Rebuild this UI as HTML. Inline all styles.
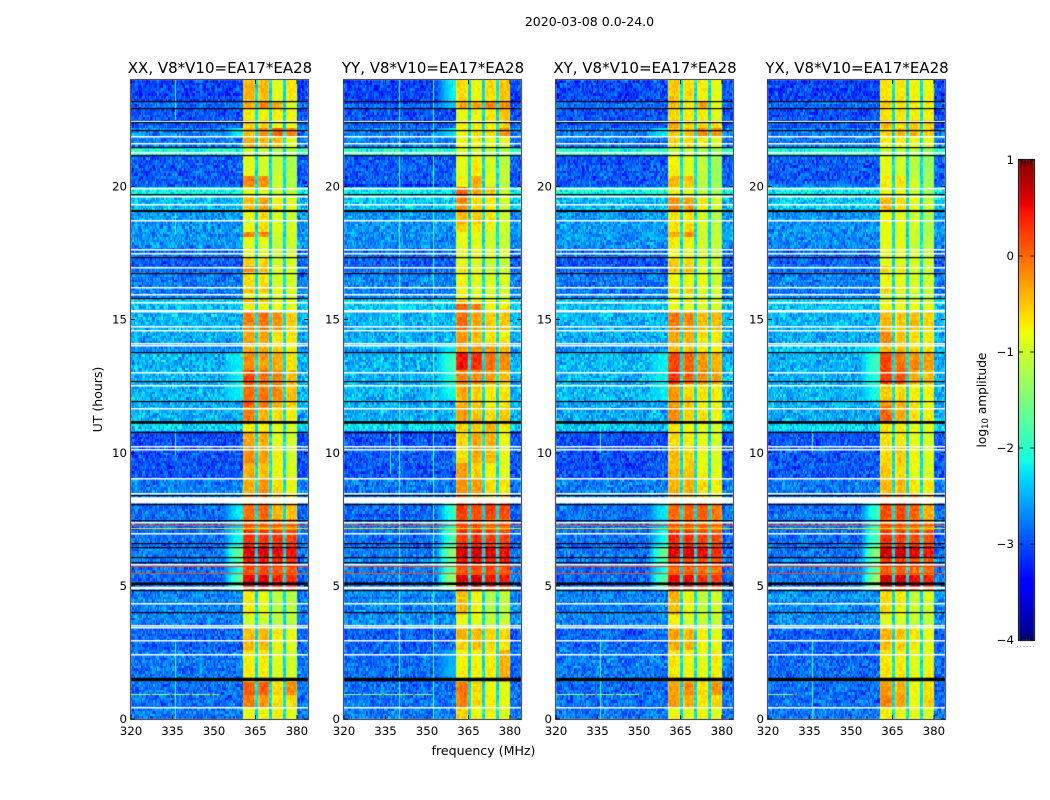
<!DOCTYPE html>
<html>
<head>
<meta charset="utf-8">
<title>2020-03-08 0.0-24.0</title>
<style>
html,body{margin:0;padding:0;background:#fff;}
#figure{position:relative;width:1050px;height:800px;overflow:hidden;background:#fff;}
canvas,svg{position:absolute;left:0;top:0;}
text{font-family:"DejaVu Sans","Liberation Sans",sans-serif;fill:#000;}
</style>
</head>
<body>
<div id="figure">
<canvas id="heat" width="1050" height="800"></canvas>
<svg id="overlay" width="1050" height="800"></svg>
</div>
<script>
const panelTitles = ["XX, V8*V10=EA17*EA28","YY, V8*V10=EA17*EA28","XY, V8*V10=EA17*EA28","YX, V8*V10=EA17*EA28"];
const xTicks = [320,335,350,365,380];
const yTicks = [0,5,10,15,20];
const colorbarTicks = [1,0,-1,-2,-3,-4];
const subbandRanges = [[360.5,365.2],[365.9,370],[370.8,375],[375.8,380]];
const segmentStartHours = [0,.41,.9,1.43,2.59,2.96,3.45,3.9,4.84,5.37,5.67,6.12,6.53,7.09,7.54,8.1,8.52,9.04,9.64,10.28,10.77,11.1,11.67,11.97,12.57,13.06,13.81,14.15,14.63,15.31,15.65,15.83,16.02,16.25,16.77,16.99,17.32,17.71,18.09,18.31,18.57,19.14,19.62,20,20.45,21.2,21.5,21.88,22.25,22.48,22.89,23.2];
const xxBackground = [-2.8,-2.85,-2.85,-2.8,-2.9,-2.9,-2.75,-2.75,-2.85,-2.85,-2.8,-2.8,-2.85,-2.8,-2.85,-2.75,-2.75,-3,-3,-3,-2.35,-2.55,-2.55,-2.5,-2.5,-2.5,-2.7,-2.55,-2.5,-2.45,-2.35,-2.75,-2.8,-2.8,-2.9,-2.95,-2.85,-2.65,-2.65,-2.65,-2.65,-2.45,-2.15,-2.95,-2.95,-2.05,-2.8,-2.75,-2.95,-3,-2.85,-3.05];
const yyBackground = [-2.8,-2.85,-2.85,-2.85,-2.9,-2.9,-2.7,-2.7,-2.8,-2.8,-2.75,-2.8,-2.85,-2.8,-2.85,-2.8,-2.8,-2.95,-2.95,-3,-2.3,-2.55,-2.5,-2.5,-2.5,-2.5,-2.5,-2.55,-2.5,-2.4,-2.35,-2.75,-2.8,-2.75,-2.85,-2.9,-2.85,-2.7,-2.65,-2.65,-2.65,-2.4,-2.2,-2.95,-2.95,-2.05,-2.8,-2.75,-2.95,-3,-2.9,-3.05];
const xxWing = [0,0,0,0,0,0,0,0,-1.7,-2.1,-1.7,-1.6,-2.1,-2.35,-2.2,0,0,0,0,0,0,0,0,-2.2,-2.2,-2.2,0,0,0,0,0,0,0,0,0,0,0,0,0,0,0,0,0,0,0,0,0,-2.2,0,0,0,0];
const yyWing = [0,0,0,-2.5,0,0,0,0,-1.3,-1.7,-1.6,-1.4,-1.8,-2.05,-1.95,0,0,0,0,0,0,0,0,-2.1,-2,-1.9,-2.2,0,0,0,0,0,0,0,0,0,0,0,0,0,0,0,0,0,0,0,0,-2.3,0,0,-2.4,-2.2];
const yxWing = [0,0,0,0,0,0,0,0,-1.3,-1.7,-1.6,-1.4,-1.8,-2.05,-1.95,0,0,0,0,0,0,0,0,-2.1,-2,-1.9,-2.2,0,0,0,0,0,0,0,0,0,0,0,0,0,0,0,0,0,0,0,0,0,0,0,0,0];
const xxBand = [[-.95,-.9,-.85,-1],[-.25,-.35,-.8,-.75],[-.1,-.05,-.75,-.35],[-.85,-.8,-1.05,-1.1],[-.55,-.55,-.9,-1],[-.6,-.55,-.85,-.95],[-1.1,-1.15,-1.25,-1.25],[-.85,-.95,-1.25,-1.25],[.4,.45,.25,.2],[0,.05,-.05,-.05],[.3,.3,.2,.15],[.4,.45,.35,.3],[.15,.15,.1,.05],[-.15,-.15,-.25,-.25],[-.2,-.1,-.55,-.6],[-.3,-.2,-.6,-.8],[-.5,-.35,-.75,-.9],[-.5,-.6,-.95,-1.05],[-.35,-.45,-.9,-1.1],[-.5,-.5,-1,-1.1],[-.85,-.85,-1,-1.1],[-.25,-.5,-.75,-.85],[-.1,-.2,-.5,-.7],[-.15,-.2,-.3,-.6],[.02,-.15,-.3,-.55],[-.35,-.4,-.5,-.8],[-.5,-.5,-.7,-.85],[-.45,-.45,-.8,-.8],[-.3,-.2,-.35,-.65],[-.9,-.9,-1,-1],[-.55,-.6,-.9,-.9],[-1,-1,-1.1,-1.1],[-.6,-.6,-1,-1],[-.8,-.75,-1.1,-1.1],[-.4,-.6,-1,-1.1],[-.7,-.7,-1.1,-1.1],[-1,-1,-1.15,-1.1],[-1,-.95,-1.2,-1.1],[-.3,-.3,-1.1,-1.1],[-.95,-.75,-1,-1.1],[-1,-.75,-1.1,-1.2],[-.6,-.4,-.85,-1],[-1,-1,-1.2,-1.2],[-.3,-.35,-1.1,-1.3],[-1,-1.1,-1.2,-1.3],[-1.2,-1.2,-1.3,-1.3],[-.5,-.55,-.6,-1],[-.6,-.3,-.1,-.3],[-.7,-.7,-1,-1],[-.85,-.85,-.85,-.95],[-.5,-.2,-.45,-1],[-.55,-.55,-1,-.8]];
const yyBand = [[-.7,-.9,-.95,-1],[-.25,-.75,-.9,-1],[-.25,-.7,-.9,-1],[-.9,-.9,-.85,-.5],[-.7,-.6,-.7,-.8],[-.5,-.55,-.7,-.7],[-1,-1,-1.2,-1.2],[-.6,-.9,-1.3,-1.2],[.45,.5,.3,.3],[-.05,.05,0,0],[.3,.3,.2,.2],[.45,.5,.4,.35],[.1,.2,.1,.05],[-.05,-.05,-.2,-.2],[.1,.05,.1,.05],[-.2,-.3,-.6,-.6],[-.35,-.4,-.75,-.8],[-.4,-.7,-.9,-1],[-.75,-.5,-.6,-1],[-.75,-.45,-.5,-.9],[-.7,-.6,-.55,-.8],[-.4,-.6,-.75,-.65],[-.55,-.6,-.85,-.8],[-.5,-.7,-.8,-.8],[-.25,-.3,-.4,-.55],[.3,.2,-.15,-.3],[-.35,-.3,-.35,-.5],[-.4,-.6,-.8,-.85],[-.15,-.45,-.65,-.6],[-.1,-.3,-.9,-.8],[-.6,-.8,-1,-1],[-1,-1.1,-1.1,-1.1],[-.9,-1,-1.1,-1.1],[-.95,-1,-1.1,-1.1],[-.8,-.9,-1.1,-1.1],[-1,-1,-1.1,-1.2],[-1,-.95,-1.1,-1.1],[-1,-1,-1.1,-1.15],[-.95,-.95,-1.1,-1.15],[-.7,-.8,-.95,-1.1],[-.55,-.65,-.8,-1.1],[-.3,-.7,-.85,-1.1],[-.1,-.5,-.6,-1.1],[-.9,-.45,-1,-1.2],[-1,-.85,-1.1,-1.2],[-1.1,-1.1,-1.2,-1.3],[-.9,-.85,-1,-1.05],[-.9,-.75,-.75,-.35],[-.9,-.9,-.9,-.7],[-1,-.95,-.8,-.65],[-.5,-.45,-.25,-.3],[-.75,-.9,-.75,-.6]];
const xyBand = [[-.9,-1,-.9,-1],[-.4,-.5,-.85,-.7],[-.45,-.3,-.75,-.35],[-.8,-.9,-1,-.85],[-.5,-.55,-.85,-1],[-.45,-.55,-.85,-1],[-.9,-1.1,-1.2,-1.2],[-.55,-.85,-1.2,-1.1],[.35,.4,.15,.1],[-.1,-.1,-.2,-.2],[.1,.1,0,0],[.4,.45,.35,.2],[.15,.15,.05,0],[-.15,-.1,-.2,-.3],[-.15,-.1,-.05,-.25],[-.4,-.4,-.7,-.8],[-.55,-.5,-.75,-.85],[-.55,-.6,-.9,-1],[-.6,-.7,-.95,-1.05],[-.75,-.85,-1,-1.1],[-.8,-.9,-1,-1.05],[-.3,-.65,-.8,-.85],[-.45,-.6,-.9,-.9],[-.4,-.7,-.8,-.85],[.15,-.1,-.3,-.45],[.05,-.1,-.4,-.55],[-.6,-.6,-.8,-.85],[-.45,-.5,-.8,-.8],[-.2,-.3,-.55,-.55],[-1,-1,-1.1,-1.1],[-.8,-.8,-.9,-1],[-1.1,-1.1,-1.2,-1.2],[-.7,-.7,-1,-1.1],[-.9,-.9,-1,-1.1],[-.6,-.6,-1,-1.1],[-.7,-.7,-1,-1.1],[-1,-.95,-1.15,-1.2],[-.85,-.85,-1.1,-1.2],[-.45,-.4,-1.1,-1.25],[-.8,-.7,-1.1,-1.25],[-.8,-.8,-1.1,-1.3],[-.35,-.4,-.85,-1.1],[-.9,-1,-1.25,-1.4],[-.55,-.6,-1.2,-1.4],[-.9,-1,-1.25,-1.4],[-1.2,-1.2,-1.3,-1.4],[-.7,-.7,-.9,-1],[-.6,-.6,-.3,-.3],[-.5,-.7,-.7,-.8],[-.75,-.8,-.9,-1],[-.55,-.8,-.45,-.95],[-.65,-.75,-.85,-1]];
const yxBand = [[-.85,-.95,-1,-1.05],[-.3,-.45,-.95,-.7],[-.4,-.5,-.95,-.75],[-.8,-.85,-1,-.95],[-.6,-.7,-.85,-.95],[-.5,-.6,-.8,-.95],[-1.05,-1.05,-1.2,-1.2],[-.75,-.85,-1.2,-1.1],[.5,.5,.4,.2],[-.1,-.1,-.2,-.2],[.1,.1,.05,-.1],[.5,.5,.4,.3],[.15,.1,.05,0],[-.1,-.1,-.2,-.35],[0,.05,-.1,-.5],[-.1,-.2,-.15,-.55],[-.55,-.55,-.8,-.85],[-.65,-.75,-1,-1.05],[-.75,-.65,-.9,-1.05],[-.8,-.8,-1,-1.1],[-.8,-.85,-1,-1.05],[-.1,-.5,-.75,-.85],[-.35,-.5,-.85,-.9],[-.65,-.75,-.85,-.9],[.1,0,-.45,-.55],[.05,-.15,-.3,-.4],[-.55,-.6,-.75,-.8],[-.3,-.6,-.75,-.85],[-.55,-.65,-.6,-.7],[-.9,-.95,-.95,-1],[-.9,-.9,-1,-1.1],[-1.2,-1.2,-1.2,-1.25],[-.75,-.85,-1.05,-1.15],[-.95,-.95,-1.1,-1.15],[-.7,-.8,-1.05,-1.15],[-1,-1,-1.1,-1.15],[-1,-1,-1.1,-1.2],[-1,-1,-1.15,-1.25],[-.95,-1,-1.1,-1.25],[-1,-1,-1.1,-1.3],[-.95,-.95,-1.1,-1.3],[-.55,-.75,-1,-1.2],[-.95,-.95,-1.2,-1.4],[-.9,-.8,-1.2,-1.4],[-1,-1.1,-1.25,-1.45],[-1.2,-1.3,-1.3,-1.4],[-.85,-.85,-.95,-1],[-.7,-.6,-.55,-.65],[-.6,-.75,-.7,-.7],[-.8,-.8,-.85,-.9],[-.7,-.85,-.8,-.9],[-.8,-.8,-.9,-.9]];
const whiteFlagHours = [.45,2.44,2.96,3.45,3.53,4.35,5.83,6.98,7.39,8.49,9.04,10.13,10.24,11.67,12.53,13.02,14.03,14.11,14.6,14.75,15.31,15.38,15.65,15.95,16.21,16.96,17.52,17.64,18.76,19.36,19.66,19.96,21.29,21.65,21.88,22.45];
const whiteFlagBlocks = [[4.87,4.97],[8.1,8.33]];
const blackFlagHours = [4.01,4.84,5.89,6.08,6.45,6.6,7.47,8.07,8.41,10.77,11.93,12.68,13.77,15.83,16.74,17.34,19.7,21.2,21.5,22.14,22.44,22.93,23.2];
const blackFlagBlocks = [[1.42,1.55],[5.03,5.13],[11.09,11.19],[19.04,19.12]];
const hotLineHours = [7.3,7.17,5.74,5.48];
const hotLineLevels = [.2,-.6,.25,.15];
const rfiLineHour = [.94,.94,.94,.94];
const rfiLineEndMHz = [352,352,350,330];
const rfiDotsMHz = [[326.9,334,341.5,348.6,355.8],[326,333.8,345],[330,334,341,350],[329]];
const verticalRfi = [[[336,0,2.9],[336,9.9,10.9],[336,18.2,19],[336,22.5,24]],[[340,0,24],[352,0,24],[336.7,9.2,11]],[[336,10,11],[336,0,3]],[[336,0,3],[336,10,11]]];
const fineGrainA = [.12,-.18,.05,.22,-.09,-.26,.16,.02,-.14,.27,-.05,.09,-.21,.18,-.02,-.12,.24,.07,-.28,.11,-.07,.19,-.16,.03,.26,-.23,.08,-.1,.15,-.19,.01,.21,-.04,-.25,.13,.06,-.15,.28,-.08,-.2,.17,.04,-.11,.23,-.27,.1,-.03,.2,-.17,.14,-.06,-.22,.25];
const fineGrainB = [-.06,.1,-.13,.04,.15,-.09,.07,-.16,.12,.02,-.11,.17,-.04,-.14,.08,.13,-.07,.05,-.17,.11,.01,-.1,.14,-.03,.09,-.15,.06,.16,-.12,-.02,.03];

const panelLeft = [131,344,556,768];
const panelWidth = 177, plotTop = 80, plotBottom = 719;
const xMin = 320, xMax = 384, yMin = 0, yMax = 24;
const barLeft = 1019, barRight = 1034, barTop = 160, barBottom = 640, barMax = 1, barMin = -4;
const ctx = document.getElementById('heat').getContext('2d');
const svg = document.getElementById('overlay');

function xPx(p, mhz){return panelLeft[p] + (mhz - xMin) / (xMax - xMin) * panelWidth;}
function yPx(h){return plotBottom - (h - yMin) / (yMax - yMin) * (plotBottom - plotTop);}
function barY(v){return barTop + (barMax - v) / (barMax - barMin) * (barBottom - barTop);}
function ramp(pts, t){
  for(let i = 1; i < pts.length; i++){
    if(t <= pts[i][0]){
      const a = pts[i-1], b = pts[i];
      return a[1] + (b[1] - a[1]) * (t - a[0]) / (b[0] - a[0]);
    }
  }
  return pts[pts.length-1][1];
}
const jetR = [[0,0],[.35,0],[.66,1],[.89,1],[1,.5]];
const jetG = [[0,0],[.125,0],[.375,1],[.64,1],[.91,0],[1,0]];
const jetB = [[0,.5],[.11,1],[.34,1],[.65,0],[1,0]];
function jet(v){
  const t = Math.max(0, Math.min(1, (v - barMin) / (barMax - barMin)));
  return 'rgb(' + Math.round(ramp(jetR,t)*255) + ',' + Math.round(ramp(jetG,t)*255) + ',' + Math.round(ramp(jetB,t)*255) + ')';
}
function segmentIndex(h){
  let s = 0;
  for(let i = 0; i < segmentStartHours.length; i++){ if(h >= segmentStartHours[i]) s = i; }
  return s;
}
const panelBand = [xxBand, yyBand, xyBand, yxBand];
const panelBackground = [xxBackground, yyBackground, xxBackground, yyBackground];
const panelWing = [xxWing, yyWing, xxWing, yxWing];
const rowCount = 240, colCount = 128;
const bandBrightening = .14;

function cellValue(p, row, col){
  const h = (row + .5) * (yMax - yMin) / rowCount;
  const f = xMin + (col + .5) * (xMax - xMin) / colCount;
  const s = segmentIndex(h);
  const grainIdxA = (row * row * 5 + col * col * 3 + row * col + p * 11) % fineGrainA.length;
  const grainIdxB = (col * 17 + row * row * 2 + col * row + p * 5) % fineGrainB.length;
  const grain = fineGrainA[grainIdxA] + fineGrainB[grainIdxB];
  const bg = panelBackground[p][s];
  if(f < subbandRanges[0][0] || f > subbandRanges[3][1]){
    let v = bg + grain * 1.1;
    const wing = panelWing[p][s];
    if(wing !== 0 && f < subbandRanges[0][0] && f > subbandRanges[0][0] - 7){
      const d = (subbandRanges[0][0] - f) / 7;
      v = Math.max(v, wing + (bg - wing) * d * d + grain * .3);
    }
    return v;
  }
  for(let b = 0; b < 4; b++){
    const r = subbandRanges[b];
    if(f >= r[0] && f <= r[1]){
      let v = panelBand[p][s][b] + bandBrightening + grain * .5;
      if(f - r[0] < .5 || r[1] - f < .5) v = v - .18;
      return v;
    }
  }
  return -2.3 + grain * .5;
}
for(let p = 0; p < 4; p++){
  for(let row = 0; row < rowCount; row++){
    const y0 = Math.round(yPx((row + 1) * (yMax - yMin) / rowCount));
    const y1 = Math.round(yPx(row * (yMax - yMin) / rowCount));
    for(let col = 0; col < colCount; col++){
      const x0 = Math.round(xPx(p, xMin + col * (xMax - xMin) / colCount));
      const x1 = Math.round(xPx(p, xMin + (col + 1) * (xMax - xMin) / colCount));
      ctx.fillStyle = jet(cellValue(p, row, col));
      ctx.fillRect(x0, y0, x1 - x0, y1 - y0);
    }
  }
  const left = panelLeft[p];
  ctx.fillStyle = jet(-1.75);
  verticalRfi[p].forEach(function(line){
    ctx.fillRect(Math.round(xPx(p, line[0])), yPx(line[2]), 1, yPx(line[1]) - yPx(line[2]));
  });
  hotLineHours.forEach(function(h, i){
    ctx.fillStyle = jet(hotLineLevels[i]);
    ctx.fillRect(left, Math.round(yPx(h)), panelWidth, 1);
  });
  ctx.fillStyle = jet(-1.3);
  ctx.fillRect(left, Math.round(yPx(rfiLineHour[p])), xPx(p, rfiLineEndMHz[p]) - left, 1);
  ctx.fillStyle = jet(.3);
  rfiDotsMHz[p].forEach(function(m){ ctx.fillRect(Math.round(xPx(p, m)), Math.round(yPx(rfiLineHour[p])), 2, 1); });
  ctx.fillStyle = '#fff';
  whiteFlagHours.forEach(function(h){ ctx.fillRect(left, Math.round(yPx(h)), panelWidth, 1.5); });
  whiteFlagBlocks.forEach(function(b){ ctx.fillRect(left, yPx(b[1]), panelWidth, yPx(b[0]) - yPx(b[1])); });
  ctx.fillStyle = '#000';
  blackFlagHours.forEach(function(h){ ctx.fillRect(left, Math.round(yPx(h)), panelWidth, 1.2); });
  blackFlagBlocks.forEach(function(b){ ctx.fillRect(left, yPx(b[1]), panelWidth, yPx(b[0]) - yPx(b[1])); });
}
for(let y = barTop; y < barBottom; y++){
  const v = barMax - (y + .5 - barTop) / (barBottom - barTop) * (barMax - barMin);
  ctx.fillStyle = jet(v);
  ctx.fillRect(barLeft, y, barRight - barLeft, 1);
}

function el(tag, parent){
  const e = document.createElementNS('http://www.w3.org/2000/svg', tag);
  parent.appendChild(e);
  return e;
}
function setAll(e, o){ for(const k in o){ e.setAttribute(k, o[k]); } return e; }
function label(parent, x, y, str, size, anchor, rotate){
  const t = el('text', parent);
  setAll(t, {x:x, y:y, 'font-size':size, 'text-anchor':anchor});
  if(rotate) t.setAttribute('transform', 'rotate(' + rotate + ' ' + x + ' ' + y + ')');
  t.textContent = str;
  return t;
}
function tick(parent, x1, y1, x2, y2){
  const l = el('line', parent);
  setAll(l, {x1:x1, y1:y1, x2:x2, y2:y2, stroke:'#000', 'stroke-width':.8});
  return l;
}
const suptitle = label(svg, 589.5, 26, '2020-03-08 0.0-24.0', 12.55, 'middle');



panelTitles.forEach(function(title, p){
  const g = el('g', svg);
  
  
  const left = panelLeft[p], right = left + panelWidth;
  const tl = label(g, left + panelWidth / 2 + .5, 73, title, 15, 'middle');
  
  
  const frame = el('rect', g);
  setAll(frame, {x:left - .5, y:plotTop - .5, width:panelWidth + 1, height:plotBottom - plotTop + 1, fill:'none', stroke:'#555', 'stroke-width':1.2});
  
  
  xTicks.forEach(function(v){
    const x = xPx(p, v);
    const a = tick(g, x, plotBottom, x, plotBottom - 4);
    
    
    const b = tick(g, x, plotTop, x, plotTop + 4);
    
    
    const t = label(g, x, 735, String(v), 11.8, 'middle');
    
    
  });
  yTicks.forEach(function(v){
    const y = yPx(v);
    const a = tick(g, left, y, left + 4, y);
    
    
    const b = tick(g, right, y, right - 4, y);
    
    
    const t = label(g, left - 4, y + 4, String(v), 11.8, 'end');
    
    
  });
});
const xTitle = label(svg, 483.5, 755, 'frequency (MHz)', 12.6, 'middle');


const yTitle = label(svg, 102, 399.5, 'UT (hours)', 12.5, 'middle', -90);



const barGroup = el('g', svg);


const barFrame = el('rect', barGroup);
setAll(barFrame, {x:barLeft - .5, y:barTop - .5, width:barRight - barLeft + 1, height:barBottom - barTop + 1, fill:'none', stroke:'#222', 'stroke-width':1.2});


colorbarTicks.forEach(function(v){
  const y = barY(v);
  const a = tick(barGroup, barLeft, y, barLeft + 4, y);
  
  
  const b = tick(barGroup, barRight, y, barRight - 4, y);
  
  
  const t = label(barGroup, 1014, y + 4, v < 0 ? '\u2212' + Math.abs(v) : String(v), 11.8, 'end');
  
  
});
for(let i = 1; i <= 4; i++){
  const x = barLeft + i * (barRight - barLeft) / 5;
  const a = tick(barGroup, x, barTop, x, barTop + 4);
  
  
  const b = tick(barGroup, x, barBottom, x, barBottom - 4);
  
  
}
const barDots = el('text', barGroup);
setAll(barDots, {x:1026, y:647, 'font-size':7, 'text-anchor':'middle', style:'fill:#888;letter-spacing:1px'});
barDots.textContent = '......';


const barTitle = el('text', barGroup);
setAll(barTitle, {x:986, y:400, 'font-size':12.2, 'text-anchor':'middle', transform:'rotate(-90 986 400)'});


const logPart = el('tspan', barTitle);
logPart.textContent = 'log';
const subPart = el('tspan', barTitle);
setAll(subPart, {'font-size':8.5, dy:2});
subPart.textContent = '10';
const restPart = el('tspan', barTitle);
setAll(restPart, {dy:-2});
restPart.textContent = ' amplitude';
</script>
</body>
</html>
